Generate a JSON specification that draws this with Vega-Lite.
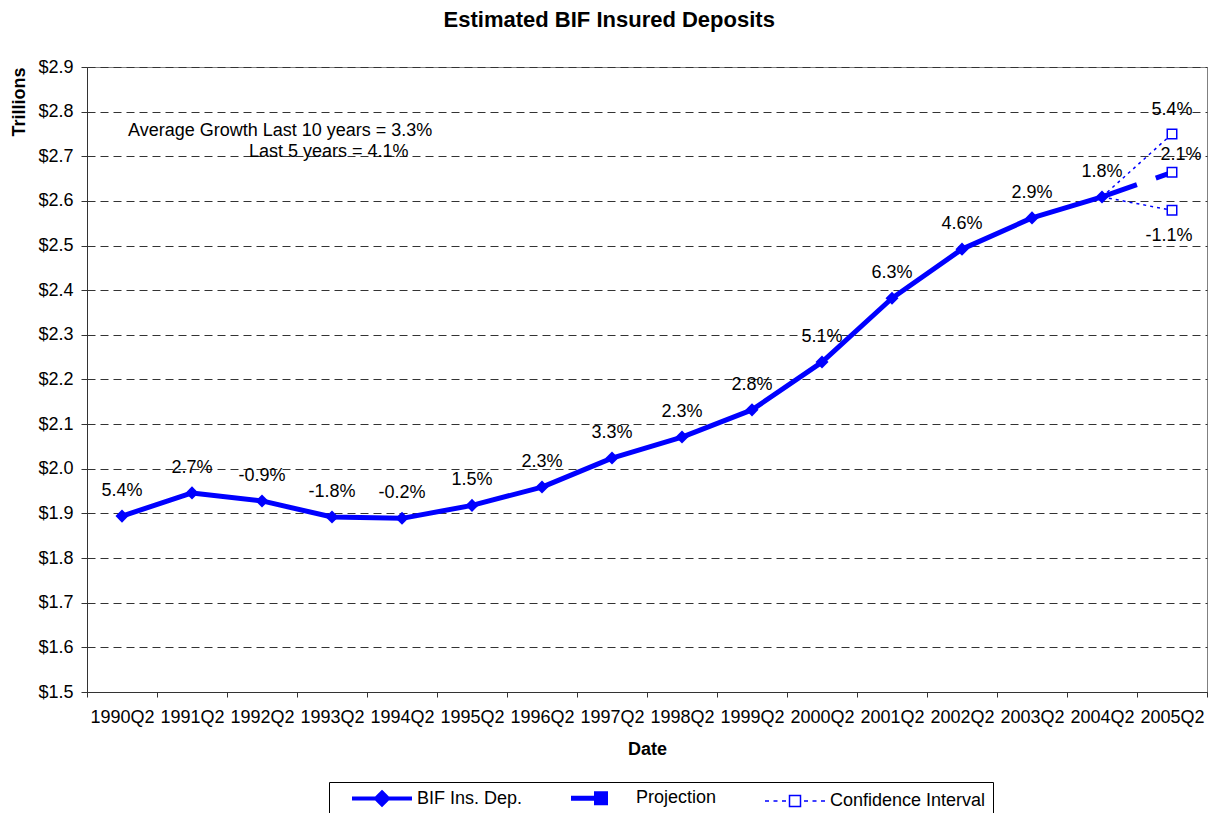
{
  "$schema": "https://vega.github.io/schema/vega-lite/v6.json",
  "width": 1120,
  "height": 625,
  "autosize": {"type": "none"},
  "padding": {"left": 87, "top": 67, "right": 4, "bottom": 121},
  "background": "white",
  "title": {"text": "Estimated BIF Insured Deposits", "fontSize": 22, "font": "Liberation Sans", "fontWeight": "bold", "frame": "bounds", "anchor": "middle", "offset": 26, "color": "black"},
  "config": {"view": {"stroke": "#808080", "strokeWidth": 1}, "font": "Liberation Sans"},
  "data": {"values": [
    {"date": "1990Q2", "value": 1.894, "series": "BIF Ins. Dep.", "group": "BIF", "growth": "5.4%"},
    {"date": "1991Q2", "value": 1.946, "series": "BIF Ins. Dep.", "group": "BIF", "growth": "2.7%"},
    {"date": "1992Q2", "value": 1.928, "series": "BIF Ins. Dep.", "group": "BIF", "growth": "-0.9%"},
    {"date": "1993Q2", "value": 1.892, "series": "BIF Ins. Dep.", "group": "BIF", "growth": "-1.8%"},
    {"date": "1994Q2", "value": 1.889, "series": "BIF Ins. Dep.", "group": "BIF", "growth": "-0.2%"},
    {"date": "1995Q2", "value": 1.918, "series": "BIF Ins. Dep.", "group": "BIF", "growth": "1.5%"},
    {"date": "1996Q2", "value": 1.959, "series": "BIF Ins. Dep.", "group": "BIF", "growth": "2.3%"},
    {"date": "1997Q2", "value": 2.024, "series": "BIF Ins. Dep.", "group": "BIF", "growth": "3.3%"},
    {"date": "1998Q2", "value": 2.071, "series": "BIF Ins. Dep.", "group": "BIF", "growth": "2.3%"},
    {"date": "1999Q2", "value": 2.132, "series": "BIF Ins. Dep.", "group": "BIF", "growth": "2.8%"},
    {"date": "2000Q2", "value": 2.239, "series": "BIF Ins. Dep.", "group": "BIF", "growth": "5.1%"},
    {"date": "2001Q2", "value": 2.382, "series": "BIF Ins. Dep.", "group": "BIF", "growth": "6.3%"},
    {"date": "2002Q2", "value": 2.492, "series": "BIF Ins. Dep.", "group": "BIF", "growth": "4.6%"},
    {"date": "2003Q2", "value": 2.562, "series": "BIF Ins. Dep.", "group": "BIF", "growth": "2.9%"},
    {"date": "2004Q2", "value": 2.609, "series": "BIF Ins. Dep.", "group": "BIF", "growth": "1.8%"},
    {"date": "2004Q2", "value": 2.609, "series": "Projection", "group": "Projection"},
    {"date": "2005Q2", "value": 2.664, "series": "Projection", "group": "Projection", "growth": "2.1%"},
    {"date": "2004Q2", "value": 2.609, "series": "Confidence Interval", "group": "Upper"},
    {"date": "2005Q2", "value": 2.750, "series": "Confidence Interval", "group": "Upper", "growth": "5.4%"},
    {"date": "2004Q2", "value": 2.609, "series": "Confidence Interval", "group": "Lower"},
    {"date": "2005Q2", "value": 2.579, "series": "Confidence Interval", "group": "Lower", "growth": "-1.1%"}
  ]},
  "encoding": {
    "x": {
      "field": "date", "type": "ordinal",
      "scale": {"type": "band", "domain": ["1990Q2","1991Q2","1992Q2","1993Q2","1994Q2","1995Q2","1996Q2","1997Q2","1998Q2","1999Q2","2000Q2","2001Q2","2002Q2","2003Q2","2004Q2","2005Q2"], "paddingInner": 0, "paddingOuter": 0},
      "axis": {"title": "Date", "titleFontSize": 18, "titleFontWeight": "bold", "titleColor": "black", "titlePadding": 14, "labelFontSize": 18, "labelColor": "black", "labelAngle": 0, "labelPadding": 11, "tickBand": "extent", "tickSize": 5, "tickColor": "#333", "domainColor": "#333", "grid": false, "labelOverlap": false, "labelBound": false}
    },
    "y": {
      "field": "value", "type": "quantitative",
      "scale": {"domain": [1.5, 2.9], "nice": false, "zero": false},
      "axis": {"title": "Trillions", "titleFontSize": 18, "titleFontWeight": "bold", "titleColor": "black", "titleAnchor": "end", "titlePadding": 9, "values": [1.5,1.6,1.7,1.8,1.9,2.0,2.1,2.2,2.3,2.4,2.5,2.6,2.7,2.8,2.9], "format": "$.1f", "labelFontSize": 18, "labelColor": "black", "labelPadding": 8, "tickSize": 6, "tickColor": "#333", "domainColor": "#333", "grid": true, "gridDash": [8, 5], "gridColor": "#333"}
    }
  },
  "layer": [
    {
      "encoding": {
        "color": {
          "field": "series", "type": "nominal",
          "scale": {"domain": ["BIF Ins. Dep.", "Projection", "Confidence Interval"], "range": ["#0000FF", "#0000FF", "#0000FF"]},
          "legend": {
            "title": null, "orient": "none", "legendX": 242, "legendY": 715, "direction": "horizontal", "columns": 3,
            "strokeColor": "black", "fillColor": "white", "padding": 7,
            "symbolSize": 100, "symbolStrokeWidth": 4, "symbolType": "stroke", "symbolOffset": 37,
            "labelFontSize": 18, "labelFont": "Liberation Sans", "labelColor": "black", "labelOffset": 26, "labelLimit": 400,
            "columnPadding": 32,
            "encoding": {
              "symbols": {
                "shape": {"value": {"expr": "datum.value === 'BIF Ins. Dep.' ? 'M-6,0H6M0,-1.2L1.2,0L0,1.2L-1.2,0Z' : datum.value === 'Projection' ? 'M-6,0H1.4M-0.9,-0.9H0.9V0.9H-0.9Z' : 'M-6,0H-5.2M-4.3,0H-3.5M-2.6,0H-1.8M-1.1,-1.1H1.1V1.1H-1.1ZM1.8,0H2.6M3.5,0H4.3M5.2,0H6'"}},
                "fill": {"value": {"expr": "datum.value === 'BIF Ins. Dep.' ? '#0000FF' : 'white'"}},
                "stroke": {"value": "#0000FF"},
                "strokeWidth": {"value": {"expr": "datum.value === 'BIF Ins. Dep.' ? 4 : datum.value === 'Projection' ? 5 : 1.5"}},
                "opacity": {"value": 1}
              },
              "labels": {
                "text": {"value": {"expr": "datum.value === 'Confidence Interval' ? datum.label + '\u00a0\u00a0\u00a0' : datum.label"}}
              }
            }
          }
        }
      },
      "layer": [
        {"transform": [{"filter": "datum.series === 'BIF Ins. Dep.'"}], "mark": {"type": "line", "strokeWidth": 5, "strokeJoin": "round"}},
        {"transform": [{"filter": "datum.series === 'Projection'"}], "mark": {"type": "line", "strokeWidth": 5, "strokeDash": [37, 20], "strokeCap": "butt"}},
        {"transform": [{"filter": "datum.series === 'Confidence Interval'"}], "mark": {"type": "line", "strokeWidth": 1.5, "strokeDash": [3, 4]}, "encoding": {"detail": {"field": "group"}}}
      ]
    },
    {"transform": [{"filter": "datum.series === 'BIF Ins. Dep.'"}], "mark": {"type": "point", "shape": "diamond", "filled": true, "size": 170, "color": "#0000FF", "opacity": 1}},
    {"transform": [{"filter": "datum.date === '2005Q2'"}], "mark": {"type": "point", "shape": "square", "filled": true, "fill": "white", "stroke": "#0000FF", "strokeWidth": 1.5, "size": 90, "opacity": 1}},
    {"transform": [{"filter": "datum.series === 'BIF Ins. Dep.'"}], "mark": {"type": "text", "fontSize": 18, "dy": -25, "color": "black"}, "encoding": {"text": {"field": "growth"}}},
    {"transform": [{"filter": "datum.group === 'Projection' && isValid(datum.growth)"}], "mark": {"type": "text", "fontSize": 18, "dx": 9, "dy": -17, "color": "black"}, "encoding": {"text": {"field": "growth"}}},
    {"transform": [{"filter": "datum.group === 'Upper' && isValid(datum.growth)"}], "mark": {"type": "text", "fontSize": 18, "dy": -24, "color": "black"}, "encoding": {"text": {"field": "growth"}}},
    {"transform": [{"filter": "datum.group === 'Lower' && isValid(datum.growth)"}], "mark": {"type": "text", "fontSize": 18, "dx": -3, "dy": 26, "color": "black"}, "encoding": {"text": {"field": "growth"}}},
    {
      "data": {"values": [{"note": "Average Growth Last 10 years = 3.3%", "date": "1990Q2", "value": 2.757}]},
      "mark": {"type": "text", "align": "left", "fontSize": 18, "dx": 6, "color": "black"},
      "encoding": {"text": {"field": "note"}}
    },
    {
      "data": {"values": [{"note": "Last 5 years = 4.1%", "date": "1990Q2", "value": 2.710}]},
      "mark": {"type": "text", "align": "left", "fontSize": 18, "dx": 127, "color": "black"},
      "encoding": {"text": {"field": "note"}}
    }
  ]
}
